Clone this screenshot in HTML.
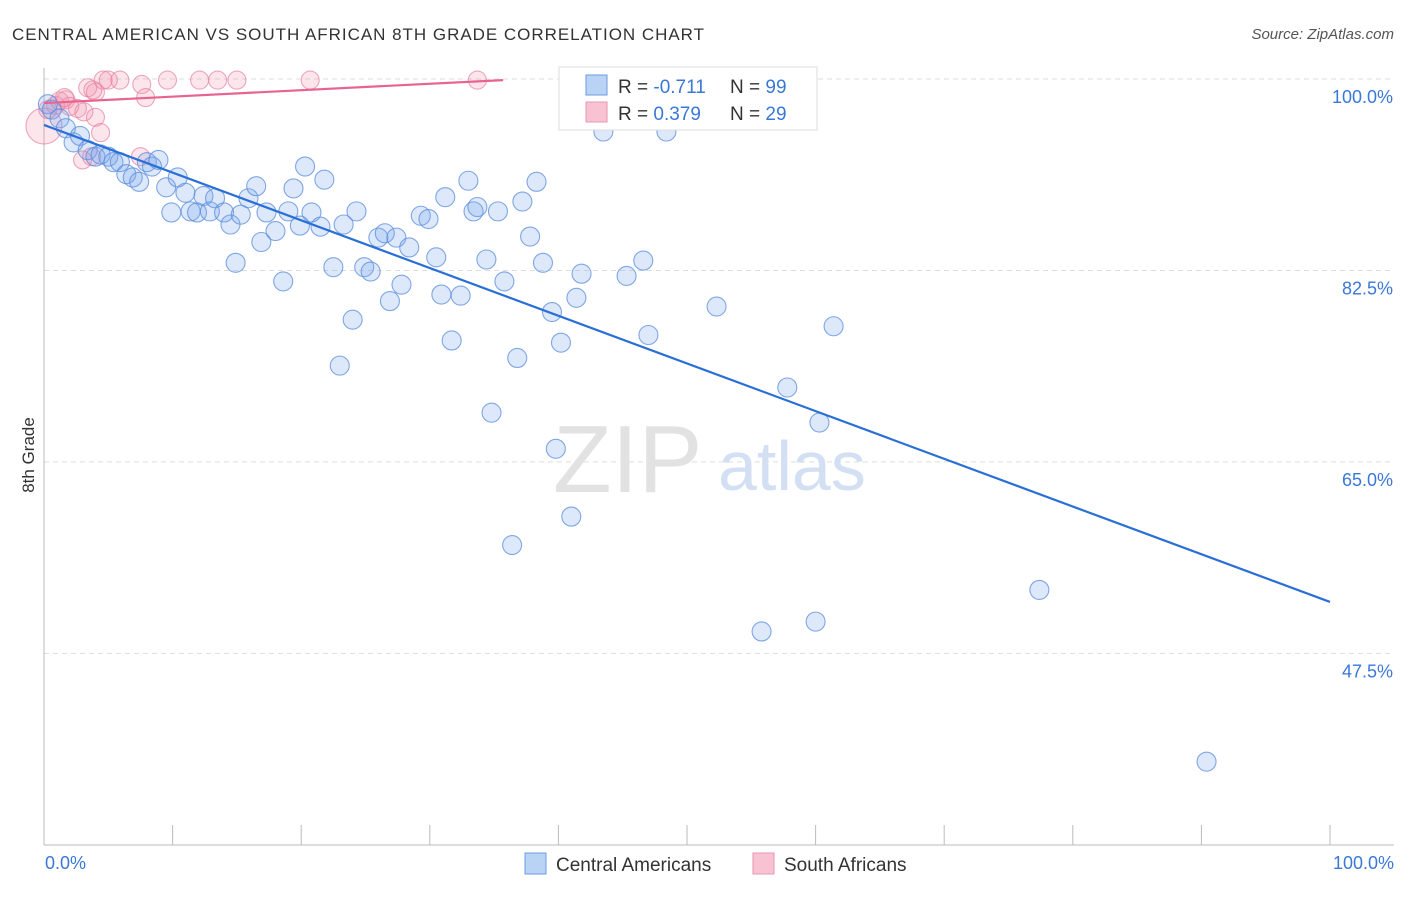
<!DOCTYPE html>
<html><head><meta charset="utf-8"><style>
body{margin:0;background:#fff;font-family:"Liberation Sans",sans-serif;}
svg text{font-family:"Liberation Sans",sans-serif;}
</style></head><body>
<svg width="1406" height="892">
<text x="12" y="40" font-size="17" fill="#333" textLength="692">CENTRAL AMERICAN VS SOUTH AFRICAN 8TH GRADE CORRELATION CHART</text>
<text x="1394" y="39" font-size="15" fill="#555" font-style="italic" text-anchor="end">Source: ZipAtlas.com</text>
<g id="grid"></g>
<text x="553" y="492" font-size="96" fill="#e2e2e2" font-family="Liberation Serif">ZIP</text>
<text x="718" y="490" font-size="70" fill="#d3e0f3">atlas</text>
<g id="pts"></g>
<g id="lines"></g>
<text x="34" y="455" font-size="17" fill="#333" transform="rotate(-90 34 455)" text-anchor="middle">8th Grade</text>
<text x="45" y="869" font-size="18" fill="#3a78d8">0.0%</text>
<text x="1394" y="869" font-size="18" fill="#3a78d8" text-anchor="end">100.0%</text>
<g>
<rect x="559" y="67" width="258" height="63" fill="#fff" stroke="#ddd"/>
<rect x="586" y="75" width="21" height="20" fill="#b9d3f5" stroke="#6b9be0"/>
<rect x="586" y="102" width="21" height="20" fill="#f7c2d2" stroke="#e995b0"/>
<text x="618" y="93" font-size="19" fill="#333">R = <tspan fill="#3a78d8">-0.711</tspan></text>
<text x="730" y="93" font-size="19" fill="#333">N = <tspan fill="#3a78d8">99</tspan></text>
<text x="618" y="120" font-size="19" fill="#333">R = <tspan fill="#3a78d8"> 0.379</tspan></text>
<text x="730" y="120" font-size="19" fill="#333">N = <tspan fill="#3a78d8">29</tspan></text>
</g>
<g>
<rect x="525" y="853" width="21" height="21" fill="#b9d3f5" stroke="#6b9be0"/>
<text x="556" y="871" font-size="19" fill="#333">Central Americans</text></g>
<g>
<rect x="753" y="853" width="21" height="21" fill="#f7c2d2" stroke="#e995b0"/>
<text x="784" y="871" font-size="19" fill="#333">South Africans</text></g>
</svg>
<script>
const yTicks=[100,82.5,65,47.5];
const xTickCount=10;
const blueX=[0.3,0.6,1.2,1.7,2.3,2.8,3.4,4.0,4.4,5.0,5.4,5.9,6.4,6.9,7.4,8.0,8.4,8.9,9.5,9.9,10.4,11.0,11.4,11.9,12.4,12.9,13.3,14.0,14.5,14.9,15.3,15.9,16.5,16.9,17.3,18.0,18.6,19.0,19.4,19.9,20.3,20.8,21.5,21.8,22.5,23.3,23.0,24.0,24.3,24.9,25.4,26.0,26.5,26.9,27.4,27.8,28.4,29.3,29.9,30.5,30.9,31.2,31.7,32.4,33.0,33.4,33.7,34.4,34.8,35.3,35.8,36.8,37.2,37.8,38.3,38.8,39.5,39.8,40.2,41.0,41.4,41.8,43.5,45.3,46.6,47.0,48.4,49.1,52.3,55.8,57.8,60.0,60.3,61.4,77.4,90.4,36.4];
const blueY=[97.7,97.2,96.4,95.5,94.2,94.8,93.5,92.9,93.1,92.9,92.4,92.4,91.3,91.0,90.6,92.4,92.0,92.6,90.1,87.8,91.0,89.6,87.9,87.8,89.3,87.9,89.1,87.8,86.7,83.2,87.6,89.1,90.2,85.1,87.8,86.1,81.5,87.9,90.0,86.6,92.0,87.8,86.5,90.8,82.8,86.7,73.8,78.0,87.9,82.8,82.4,85.5,85.9,79.7,85.5,81.2,84.6,87.5,87.2,83.7,80.3,89.2,76.1,80.2,90.7,87.9,88.3,83.5,69.5,87.9,81.5,74.5,88.8,85.6,90.6,83.2,78.7,66.2,75.9,60.0,80.0,82.2,95.2,82.0,83.4,76.6,95.2,99.9,79.2,49.5,71.8,50.4,68.6,77.4,53.3,37.6,57.4];
const pinkX=[0,0.3,0.9,1.2,1.7,2.0,2.6,3.1,3.4,3.8,4.0,4.4,4.6,5.0,5.9,7.6,7.9,9.6,12.1,13.5,15.0,20.7,33.7,7.5,3.0,3.7,4.0,1.6];
const pinkY=[95.7,97.2,97.6,98.0,98.1,97.5,97.3,97.0,99.2,99.0,96.5,95.1,99.9,99.9,99.9,99.5,98.3,99.9,99.9,99.9,99.9,99.9,99.9,92.9,92.6,92.9,98.8,98.3];
const blueFit=[95.8,52.2];
const pinkFit=[97.8,99.9,35.7];
const X=v=>44+v*12.86, Y=v=>79+(100-v)*10.94;
const NS='http://www.w3.org/2000/svg';
function mk(t,a,p){const e=document.createElementNS(NS,t);for(const k in a)e.setAttribute(k,a[k]);p.appendChild(e);return e;}
const grid=document.getElementById('grid');
yTicks.forEach((t,i)=>{
 const l=mk('line',{x1:44,x2:1394,y1:Y(t),y2:Y(t),stroke:'#ddd','stroke-dasharray':'5,4'},grid);
 
 
 const tx=mk('text',{x:1393,y:Y(t)+24,'font-size':18,fill:'#3a78d8','text-anchor':'end'},grid);
 tx.textContent=t.toFixed(1)+'%';
 
 
});
const ax=mk('line',{x1:44,x2:44,y1:68,y2:845,stroke:'#bbb'},grid);


const bx=mk('line',{x1:44,x2:1394,y1:845,y2:845,stroke:'#bbb'},grid);


for(let i=0;i<=xTickCount;i++){const v=i*100/xTickCount;
 const t=mk('line',{x1:X(v),x2:X(v),y1:825,y2:845,stroke:'#bbb'},grid);
 
 }
const pts=document.getElementById('pts');
pinkX.forEach((x,i)=>{const c=mk('circle',{cx:X(x),cy:Y(pinkY[i]),r:i==0?18:9,fill:'rgba(240,140,170,0.22)',stroke:'rgba(230,130,165,0.7)','stroke-width':1.1},pts);
 
 });
blueX.forEach((x,i)=>{const c=mk('circle',{cx:X(x),cy:Y(blueY[i]),r:9.5,fill:'rgba(120,165,235,0.25)',stroke:'rgba(90,140,220,0.75)','stroke-width':1.1},pts);
 
 });
const ln=document.getElementById('lines');
const b=mk('line',{x1:X(0),y1:Y(blueFit[0]),x2:X(100),y2:Y(blueFit[1]),stroke:'#2a6fd6','stroke-width':2.2},ln);


const p=mk('line',{x1:X(0),y1:Y(pinkFit[0]),x2:X(pinkFit[2]),y2:Y(pinkFit[1]),stroke:'#e8648e','stroke-width':2.2},ln);


</script>
</body></html>
